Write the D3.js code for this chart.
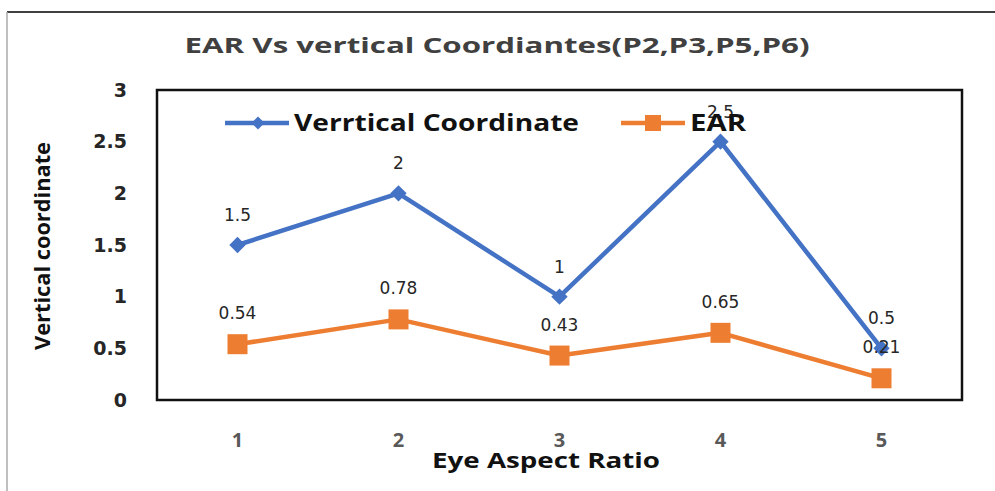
<!DOCTYPE html>
<html>
<head>
<meta charset="utf-8">
<script src="https://cdnjs.cloudflare.com/ajax/libs/d3/7.8.5/d3.min.js"></script>
<style>
  body { margin: 0; background: #fff; }
  svg { display: block; }
</style>
</head>
<body>
<svg id="chart" width="995" height="491"></svg>
<script>

const categories = ["1", "2", "3", "4", "5"];

const verticalValues = [1.5, 2, 1, 2.5, 0.5];

const earValues = [0.54, 0.78, 0.43, 0.65, 0.21];

const yTicks = [0, 0.5, 1, 1.5, 2, 2.5, 3];

const seriesNames = ["Verrtical Coordinate", "EAR"];

const blue = "#4472C4";
const orange = "#ED7D31";

const svg =
  d3.select("#chart");

const plot = {
  left: 157,
  right: 962,
  top: 90,
  bottom: 400
};

// outer frame
svg.append("line")
  .attr("x1", 7).attr("y1", 12)
  .attr("x2", 995).attr("y2", 12)
  .attr("stroke", "#404040")
  .attr("stroke-width", 2);

svg.append("line")
  .attr("x1", 7).attr("y1", 12)
  .attr("x2", 7).attr("y2", 491)
  .attr("stroke", "#aaaaaa")
  .attr("stroke-width", 1.5);

const x =
  d3.scaleBand()
    .domain(categories)
    .range([plot.left, plot.right]);

const y =
  d3.scaleLinear()
    .domain([0, 3])
    .range([plot.bottom, plot.top]);

// plot box
svg.append("rect")
  .attr("x", plot.left)
  .attr("y", plot.top)
  .attr("width", plot.right - plot.left)
  .attr("height", plot.bottom - plot.top)
  .attr("fill", "none")
  .attr("stroke", "#111")
  .attr("stroke-width", 2.5);

// title
svg.append("text")
  .attr("x", 497)
  .attr("y", 53)
  .attr("text-anchor", "middle")
  .attr("font-family", "Open Sans, sans-serif")
  .attr("font-weight", "bold")
  .attr("font-size", 22)
  .attr("fill", "#404040")
  .attr("textLength", 625)
  .attr("lengthAdjust", "spacingAndGlyphs")
  .text("EAR Vs vertical Coordiantes(P2,P3,P5,P6)");

// y axis
const yAxis =
  svg.append("g")
    .attr("transform", `translate(${plot.left - 30},0)`)
    .call(
      d3.axisLeft(y)
        .tickValues(yTicks)
        .tickSize(0)
        .tickFormat(d => d)
    );

yAxis.select(".domain").remove();

yAxis.selectAll("text")
  .attr("font-family", "DejaVu Sans, sans-serif")
  .attr("font-weight", "bold")
  .attr("font-size", 19)
  .attr("fill", "#262626")
  .attr("x", 0);

// x axis
const xAxis =
  svg.append("g")
    .attr("transform", `translate(0,${plot.bottom + 30})`)
    .call(
      d3.axisBottom(x)
        .tickSize(0)
    );

xAxis.select(".domain").remove();

xAxis.selectAll("text")
  .attr("font-family", "Open Sans, sans-serif")
  .attr("font-weight", "bold")
  .attr("font-size", 20)
  .attr("fill", "#595959");

// axis titles
svg.append("text")
  .attr("x", 546)
  .attr("y", 468)
  .attr("text-anchor", "middle")
  .attr("font-family", "Open Sans, sans-serif")
  .attr("font-weight", "bold")
  .attr("font-size", 22)
  .attr("fill", "#111")
  .attr("textLength", 228)
  .attr("lengthAdjust", "spacingAndGlyphs")
  .text("Eye Aspect Ratio");

svg.append("text")
  .attr("transform", "translate(50,246) rotate(-90)")
  .attr("text-anchor", "middle")
  .attr("font-family", "Open Sans, sans-serif")
  .attr("font-weight", "bold")
  .attr("font-size", 22)
  .attr("fill", "#111")
  .attr("textLength", 208)
  .attr("lengthAdjust", "spacingAndGlyphs")
  .text("Vertical coordinate");

const line =
  d3.line()
    .x((d, i) => x(categories[i]) + x.bandwidth() / 2)
    .y(d => y(d));

const diamond =
  d3.symbol()
    .type(d3.symbolDiamond2)
    .size(170);

function drawSeries(values, color, marker) {

  svg.append("path")
    .datum(values)
    .attr("fill", "none")
    .attr("stroke", color)
    .attr("stroke-width", 4.5)
    .attr("stroke-linejoin", "round")
    .attr("d", line);

  const pts =
    svg.append("g")
      .selectAll("g")
      .data(values)
      .enter()
      .append("g")
      .attr(
        "transform",
        (d, i) =>
          `translate(${x(categories[i]) + x.bandwidth() / 2},${y(d)})`
      );

  if (marker === "diamond") {

    pts.append("path")
      .attr("d", diamond)
      .attr("fill", color);

  } else {

    pts.append("rect")
      .attr("x", -10).attr("y", -10)
      .attr("width", 20).attr("height", 20)
      .attr("fill", color);
  }
}

drawSeries(earValues, orange, "square");
drawSeries(verticalValues, blue, "diamond");

// data labels
function drawLabels(values, offset) {

  svg.append("g")
    .selectAll("text")
    .data(values)
    .enter()
    .append("text")
    .attr("x", (d, i) => x(categories[i]) + x.bandwidth() / 2)
    .attr("y", d => y(d) + offset)
    .attr("text-anchor", "middle")
    .attr("font-family", "DejaVu Sans, sans-serif")
    .attr("font-size", 17)
    .attr("fill", "#262626")
    .text(d => d);
}

drawLabels(verticalValues, -24);
drawLabels(earValues, -25);

// legend
const legend = [
  { name: seriesNames[0], color: blue, marker: "diamond", x: 225, w: 285 },
  { name: seriesNames[1], color: orange, marker: "square", x: 621, w: 56 }
];

const lg =
  svg.append("g")
    .selectAll("g")
    .data(legend)
    .enter()
    .append("g")
    .attr("transform", d => `translate(${d.x},123)`);

lg.append("line")
  .attr("x1", 0).attr("x2", 64)
  .attr("stroke", d => d.color)
  .attr("stroke-width", 4.5);

lg.filter(d => d.marker === "diamond")
  .append("path")
  .attr("transform", "translate(33,0)")
  .attr("d", d3.symbol().type(d3.symbolDiamond2).size(110))
  .attr("fill", d => d.color);

lg.filter(d => d.marker === "square")
  .append("rect")
  .attr("x", 24).attr("y", -8)
  .attr("width", 16).attr("height", 16)
  .attr("fill", d => d.color);

lg.append("text")
  .attr("x", 69)
  .attr("y", 8)
  .attr("font-family", "Open Sans, sans-serif")
  .attr("font-weight", "bold")
  .attr("font-size", 23)
  .attr("fill", "#111")
  .attr("textLength", d => d.w)
  .attr("lengthAdjust", "spacingAndGlyphs")
  .text(d => d.name);

</script>
</body>
</html>
